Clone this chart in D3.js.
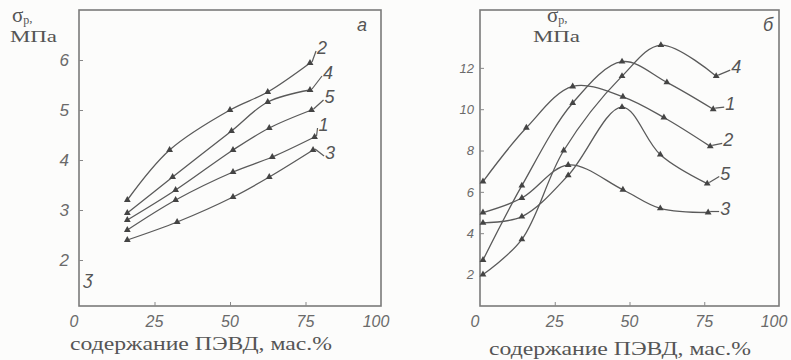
<!DOCTYPE html>
<html>
<head>
<meta charset="utf-8">
<script src="https://cdn.jsdelivr.net/npm/d3@7"></script>
<style>
  body { margin: 0; background: #fcfcfb; }
  svg { display: block; }
  .tick-lbl { font-family: "Liberation Sans", Arial, sans-serif; font-style: italic; fill: #6a6a6a; }
  .serif { font-family: "Liberation Serif", "DejaVu Serif", serif; fill: #555; }
  .curve-lbl { font-family: "Liberation Sans", Arial, sans-serif; font-style: italic; fill: #555; font-size: 18px; }
</style>
</head>
<body>
<div id="chart"></div>
<script>
// panel a: tensile strength vs LDPE content
const curvesA = ["2", "4", "5", "1", "3"];
const xA = [
  [16, 30, 50, 62.5, 76.5],
  [16, 31, 50.5, 62.5, 76.5],
  [16, 32, 51, 63, 77],
  [16, 32, 51, 64, 78],
  [16, 32.5, 51, 63, 77.5]
];
const yA = [
  [3.2, 4.2, 5.0, 5.36, 5.94],
  [2.94, 3.66, 4.58, 5.16, 5.4],
  [2.8, 3.4, 4.2, 4.64, 5.0],
  [2.6, 3.2, 3.76, 4.06, 4.46],
  [2.4, 2.76, 3.26, 3.66, 4.2]
];
const yTicksA = [2, 3, 4, 5, 6];

// panel b
const curvesB = ["4", "1", "2", "5", "3"];
const xB = [
  [1, 14, 28, 47.5, 60.5, 79],
  [1, 14, 31, 47.5, 62.5, 78],
  [1, 15.5, 31, 47.8, 61.5, 77],
  [1, 14, 29.5, 47.5, 60.3, 76],
  [1, 14, 29.5, 47.8, 60.3, 76.3]
];
const yB = [
  [2.0, 3.7, 8.0, 11.6, 13.1, 11.6],
  [2.7, 6.3, 10.3, 12.3, 11.3, 10.0],
  [6.5, 9.1, 11.1, 10.6, 9.6, 8.2],
  [4.5, 4.8, 6.8, 10.1, 7.8, 6.4],
  [5.0, 5.7, 7.3, 6.1, 5.2, 5.0]
];
const yTicksB = [2, 4, 6, 8, 10, 12];

const xTicks = [0, 25, 50, 75, 100];
const xTitle = "содержание ПЭВД, мас.%";

const W = 791, H = 360;
const svg = d3.select("#chart").append("svg").attr("width", W).attr("height", H);

function panel(opt) {
  const g = svg.append("g");
  const x = d3.scaleLinear().domain([0, 100]).range(opt.xr);
  const y = d3.scaleLinear().domain(opt.yd).range([306, 10]);

  // frame
  g.append("rect")
    .attr("x", opt.xr[0]).attr("y", 10)
    .attr("width", opt.xr[1] - opt.xr[0]).attr("height", 296)
    .attr("fill", "none").attr("stroke", "#7a7a7a").attr("stroke-width", 1.6);

  // inward ticks
  g.append("g").attr("transform", `translate(0,306)`)
    .call(d3.axisTop(x).tickValues(xTicks.slice(1, -1)).tickSize(4).tickFormat(""))
    .call(s => s.select(".domain").remove())
    .selectAll("line").attr("stroke", "#888");
  g.append("g").attr("transform", `translate(${opt.xr[0]},0)`)
    .call(d3.axisRight(y).tickValues(opt.yTicks).tickSize(4).tickFormat(""))
    .call(s => s.select(".domain").remove())
    .selectAll("line").attr("stroke", "#888");

  // tick labels
  g.selectAll(".xl").data(xTicks).join("text")
    .attr("class", "tick-lbl")
    .attr("x", d => x(d) - (d === 0 ? 5 : d === 100 ? 5 : 0))
    .attr("y", 327)
    .attr("text-anchor", "middle")
    .attr("font-size", 16)
    .text(d => d);
  g.selectAll(".yl").data(opt.yTicks).join("text")
    .attr("class", "tick-lbl")
    .attr("x", opt.xr[0] - opt.yLblGap)
    .attr("y", d => y(d) + opt.yLblSize * 0.36)
    .attr("text-anchor", "end")
    .attr("font-size", opt.yLblSize)
    .text(d => d);

  // axis titles
  g.append("text").attr("class", "serif")
    .attr("x", opt.titleX).attr("y", opt.titleY)
    .attr("font-size", 19)
    .attr("textLength", 262).attr("lengthAdjust", "spacingAndGlyphs")
    .text(xTitle);
  const yl = g.append("text").attr("class", "serif")
    .attr("x", opt.sigX).attr("y", 22).attr("font-size", 21);
  yl.append("tspan").text("σ");
  yl.append("tspan").attr("font-size", 12).attr("dy", 2).text("p");
  yl.append("tspan").attr("font-size", 13).attr("dy", -2).text(",");
  g.append("text").attr("class", "serif")
    .attr("x", opt.mpaX).attr("y", 42).attr("font-size", 16)
    .attr("textLength", 47).attr("lengthAdjust", "spacingAndGlyphs")
    .text("МПа");

  g.append("text").attr("class", "curve-lbl")
    .attr("x", opt.xr[1] - opt.tagDx).attr("y", 31).attr("font-size", 17)
    .text(opt.tag);

  const line = d3.line()
    .x(d => x(d[0])).y(d => y(d[1]))
    .curve(d3.curveCatmullRom.alpha(0.5));

  opt.names.forEach((name, i) => {
    const pts = opt.xs[i].map((v, j) => [v, opt.ys[i][j]]);
    g.append("path").datum(pts)
      .attr("d", line)
      .attr("fill", "none").attr("stroke", "#5a5a5a").attr("stroke-width", 1.3);
    g.selectAll(null).data(pts).join("path")
      .attr("transform", d => `translate(${x(d[0])},${y(d[1])})`)
      .attr("d", d3.symbol(d3.symbolTriangle, 20))
      .attr("fill", "#444");
    const last = pts[pts.length - 1];
    const ex = x(last[0]), ey = y(last[1]);
    const off = opt.lblOff[i];
    g.append("line")
      .attr("x1", ex + 2).attr("y1", ey - 1)
      .attr("x2", ex + off[0] - 6).attr("y2", ey + off[1] + 3)
      .attr("stroke", "#5a5a5a").attr("stroke-width", 1.2);
    g.append("text").attr("class", "curve-lbl")
      .attr("x", ex + off[0]).attr("y", ey + off[1] + 6)
      .attr("text-anchor", "middle")
      .text(name);
  });
  return { x, y, g };
}

const a = panel({
  xr: [79, 381], yd: [1.08, 7], yTicks: yTicksA, yLblGap: 10, yLblSize: 17,
  names: curvesA, xs: xA, ys: yA, tag: "а", tagDx: 24,
  titleX: 70, titleY: 350, sigX: 12, mpaX: 10,
  lblOff: [[12, -15], [18, -17], [18, -13], [9, -12], [17, 3]]
});
// small hand mark near the left axis
a.g.append("text").attr("class", "curve-lbl")
  .attr("x", 84).attr("y", 284).attr("font-size", 14).attr("fill", "#777")
  .text("ʒ");

panel({
  xr: [480, 779], yd: [0.476, 14.8], yTicks: yTicksB, yLblGap: 6, yLblSize: 13,
  names: curvesB, xs: xB, ys: yB, tag: "б", tagDx: 16,
  titleX: 489, titleY: 355, sigX: 547, mpaX: 533,
  lblOff: [[20, -9], [17, -5], [18, -6], [18, -10], [17, -4]]
});
</script>
</body>
</html>
